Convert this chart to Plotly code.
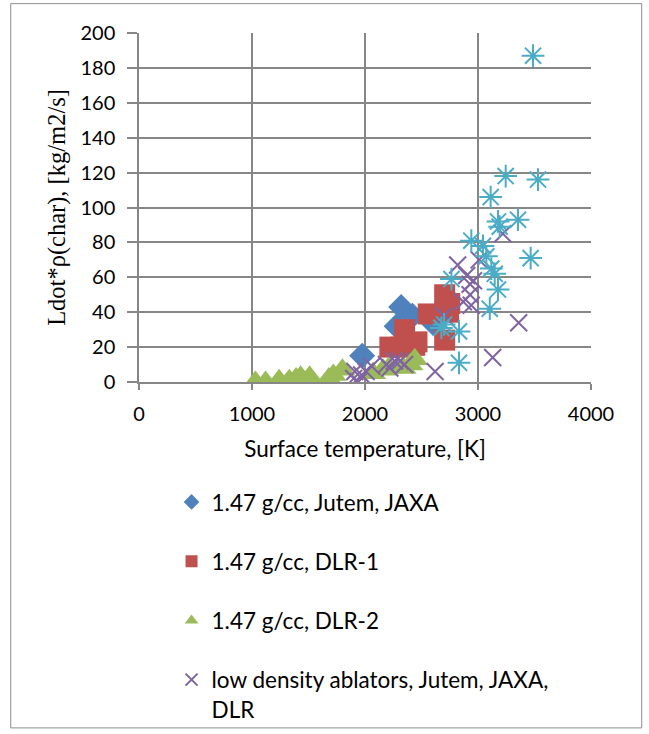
import plotly.graph_objects as go

# ---- data ----
jaxa_T = [1975, 2280, 2320, 2420, 2600]
jaxa_L = [15, 32, 43, 38, 34]

dlr1_T = [2220, 2320, 2350, 2440, 2460, 2560, 2705, 2750, 2740, 2705]
dlr1_L = [20, 20, 30, 21, 23, 39, 50, 45, 40, 24]

dlr2_T = [1030, 1120, 1240, 1330, 1390, 1430, 1510, 1680, 1720, 1800,
          2070, 2160, 2210, 2340, 2400, 2440]
dlr2_L = [0, 0, 1, 1, 2, 3, 3, 2, 4, 7, 5, 7, 8, 8, 10, 13]

low_T = [1900, 1940, 1910, 1970, 2010, 2060, 2190, 2220, 2260, 2310, 2350,
         2620, 2700, 2870, 2940, 2930, 2930, 2960, 2900, 2820, 3010, 3220,
         3360, 3130]
low_L = [2, 0, 6, 4, 6, 9, 10, 8, 12, 12, 10,
         6, 38, 46, 44, 50, 56, 58, 61, 67, 70, 85,
         34, 14]

other_T = [3487, 3245, 3531, 3112, 3177, 3192, 3354, 2941, 3044, 3074, 3466,
           3118, 3148, 3177, 3104, 2765, 2676, 2700, 2832, 2832]
other_L = [187, 118, 116, 106, 92, 89, 93, 81, 78, 72, 71,
           65, 62, 53, 42, 59, 31, 33, 29, 11]

x_ticks = [0, 1000, 2000, 3000, 4000]
y_ticks = [0, 20, 40, 60, 80, 100, 120, 140, 160, 180, 200]

FONT = "Lato"
GRID = "#878787"

fig = go.Figure()

fig.add_trace(go.Scatter(
    x=jaxa_T, y=jaxa_L, mode="markers", name="1.47 g/cc, Jutem, JAXA",
    legendgroup="a",
    marker=dict(symbol="diamond", size=20, color="#4F81BD")))
fig.add_trace(go.Scatter(
    x=dlr1_T, y=dlr1_L, mode="markers", name="1.47 g/cc, DLR-1",
    legendgroup="b",
    marker=dict(symbol="square", size=21, color="#C0504D")))
fig.add_trace(go.Scatter(
    x=dlr2_T, y=dlr2_L, mode="markers", name="1.47 g/cc, DLR-2",
    legendgroup="c",
    marker=dict(symbol="triangle-up", size=23, color="#9BBB59")))
fig.add_trace(go.Scatter(
    x=low_T, y=low_L, mode="markers",
    name="low density ablators, Jutem, JAXA,<br>DLR",
    legendgroup="d",
    marker=dict(symbol="x-thin", size=17, color="#8064A2",
                line=dict(color="#8064A2", width=2))))
fig.add_trace(go.Scatter(
    x=other_T, y=other_L, mode="markers", name="other",
    showlegend=False,
    marker=dict(symbol="asterisk", size=19, color="#4BACC6",
                line=dict(color="#4BACC6", width=2))))

# outer chart frame
fig.add_shape(type="rect", xref="paper", yref="paper",
              x0=-0.2838, x1=1.1122, y0=-0.9911, y1=1.0841,
              line=dict(color="#8c8c8c", width=1), fillcolor="rgba(0,0,0,0)",
              layer="below")

fig.update_layout(
    width=649, height=734,
    margin=dict(l=139.3, r=57.7, t=33.3, b=352.3, autoexpand=False),
    paper_bgcolor="white", plot_bgcolor="white",
    font=dict(family=FONT, size=22, color="#000000"),
    showlegend=True,
    legend=dict(
        x=0.072, y=-0.283, xanchor="left", yanchor="top",
        orientation="v", traceorder="grouped", tracegroupgap=27,
        valign="top", itemsizing="constant",
        font=dict(family=FONT, size=22.5, color="#000000"),
        bgcolor="rgba(0,0,0,0)"),
    xaxis=dict(
        range=[0, 4000], tickvals=x_ticks, ticktext=[str(v) for v in x_ticks],
        showgrid=True, gridcolor=GRID, gridwidth=1.5,
        showline=True, linecolor=GRID, linewidth=1.5,
        ticks="outside", ticklen=6, tickcolor=GRID, tickwidth=1.5,
        ticklabelstandoff=7,
        zeroline=False,
        title=dict(text="Surface temperature, [K]", standoff=17,
                   font=dict(family=FONT, size=22.5)),
        tickfont=dict(family=FONT, size=20)),
    yaxis=dict(
        range=[0, 200], tickvals=y_ticks, ticktext=[str(v) for v in y_ticks],
        showgrid=True, gridcolor=GRID, gridwidth=1.5,
        showline=True, linecolor=GRID, linewidth=1.5,
        ticks="outside", ticklen=10, tickcolor=GRID, tickwidth=1.5,
        ticklabelstandoff=8,
        zeroline=False,
        title=dict(text="Ldot*ρ(char), [kg/m2/s]", standoff=8,
                   font=dict(family="Liberation Serif", size=24.5)),
        tickfont=dict(family=FONT, size=20)),
)

fig.write_html("out.html", config={"displayModeBar": False},
               post_script="document.body.style.margin='0';")
